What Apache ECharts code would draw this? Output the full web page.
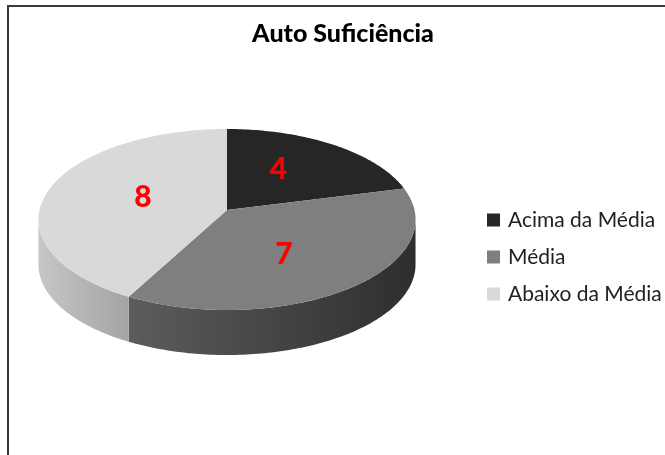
<!DOCTYPE html>
<html>
<head>
<meta charset="utf-8">
<script src="https://cdn.jsdelivr.net/npm/echarts@6/dist/echarts.min.js"></script>
<style>
  html, body { margin: 0; padding: 0; background: #fff; }
  #chart { width: 665px; height: 455px; }
</style>
</head>
<body>
<div id="chart"></div>
<script>
// dados
var categories = ['Acima da Média', 'Média', 'Abaixo da Média'];
var values = [4, 7, 8];
var topColors = ['#262626', '#7f7f7f', '#d9d9d9'];
var wallColors = [['#3a3a3a', '#1e1e1e'], ['#5c5c5c', '#2e2e2e'], ['#c6c6c6', '#a4a4a4']];

// geometria do "3D" (centro no vértice, perspectiva simples)
var CX = 227, CY = 210, F = 187.5, G = 89.5, A = 0.105, DEPTH = 45;
// posição dos rótulos (fração do raio, horizontal / vertical)
var LABEL_RU = 0.47, LABEL_RV = 0.6;

var total = values.reduce(function (s, v) { return s + v; }, 0);
var angles = [];
var acc = 0;
values.forEach(function (v) {
    var a0 = acc / total * Math.PI * 2;
    acc += v;
    angles.push([a0, acc / total * Math.PI * 2]);
});

function proj(t, ru, rv, dy) {
    var u = ru * Math.sin(t), v = rv * Math.cos(t);
    var w = 1 + A * v;
    return [CX + F * u / w, CY - G * v / w + (dy || 0)];
}

function arc(t0, t1, dy) {
    var pts = [];
    var n = Math.max(2, Math.ceil(Math.abs(t1 - t0) / (Math.PI / 180)));
    for (var i = 0; i <= n; i++) {
        pts.push(proj(t0 + (t1 - t0) * i / n, 1, 1, dy));
    }
    return pts;
}

// parte frontal visível da lateral
var FRONT0 = Math.acos(-A), FRONT1 = Math.PI * 2 - Math.acos(-A);

function renderSlice(params, api) {
    var i = params.dataIndex;
    var t0 = angles[i][0], t1 = angles[i][1];
    var children = [];

    var w0 = Math.max(t0, FRONT0), w1 = Math.min(t1, FRONT1);
    if (w1 > w0) {
        var wall = arc(w0, w1, 0).concat(arc(w1, w0, DEPTH));
        children.push({
            type: 'polygon',
            shape: { points: wall },
            style: {
                fill: {
                    type: 'linear', x: 0, y: 0, x2: 1, y2: 0,
                    colorStops: [
                        { offset: 0, color: wallColors[i][0] },
                        { offset: 1, color: wallColors[i][1] }
                    ]
                }
            }
        });
    }

    var top = [proj(0, 0, 0, 0)].concat(arc(t0, t1, 0));
    children.push({
        type: 'polygon',
        shape: { points: top },
        style: { fill: topColors[i] }
    });

    var lp = proj((t0 + t1) / 2, LABEL_RU, LABEL_RV, 0);
    children.push({
        type: 'text',
        x: lp[0], y: lp[1],
        style: {
            text: String(api.value(0)),
            fill: '#ff0000',
            font: '900 30px Lato, sans-serif',
            align: 'center',
            verticalAlign: 'middle'
        },
        z2: 10
    });

    return { type: 'group', children: children };
}

var chart = echarts.init(document.getElementById('chart'));
chart.setOption({
    animation: false,
    title: {
        text: 'Auto Suficiência',
        left: 338,
        textAlign: 'center',
        top: 16,
        textStyle: { fontFamily: 'Lato', fontWeight: 900, fontSize: 25, color: '#000' }
    },
    graphic: [{
        type: 'rect',
        shape: { x: 8, y: 6, width: 700, height: 500 },
        style: { fill: null, stroke: '#3a3a3a', lineWidth: 2 },
        silent: true
    }],
    legend: {
        orient: 'vertical',
        left: 482,
        top: 203,
        icon: 'rect',
        itemWidth: 13,
        itemHeight: 13,
        itemGap: 13,
        data: categories,
        textStyle: { fontFamily: 'Lato', fontSize: 21, color: '#222', lineHeight: 24, padding: [0, 0, 0, 3] }
    },
    series: [
        {
            // só para a legenda
            type: 'pie',
            radius: 0,
            silent: true,
            label: { show: false },
            data: categories.map(function (c, i) {
                return { name: c, value: values[i], itemStyle: { color: topColors[i] } };
            })
        },
        {
            type: 'custom',
            coordinateSystem: 'none',
            renderItem: renderSlice,
            data: values.map(function (v, i) { return { name: categories[i], value: [v] }; })
        }
    ]
});
</script>
</body>
</html>
